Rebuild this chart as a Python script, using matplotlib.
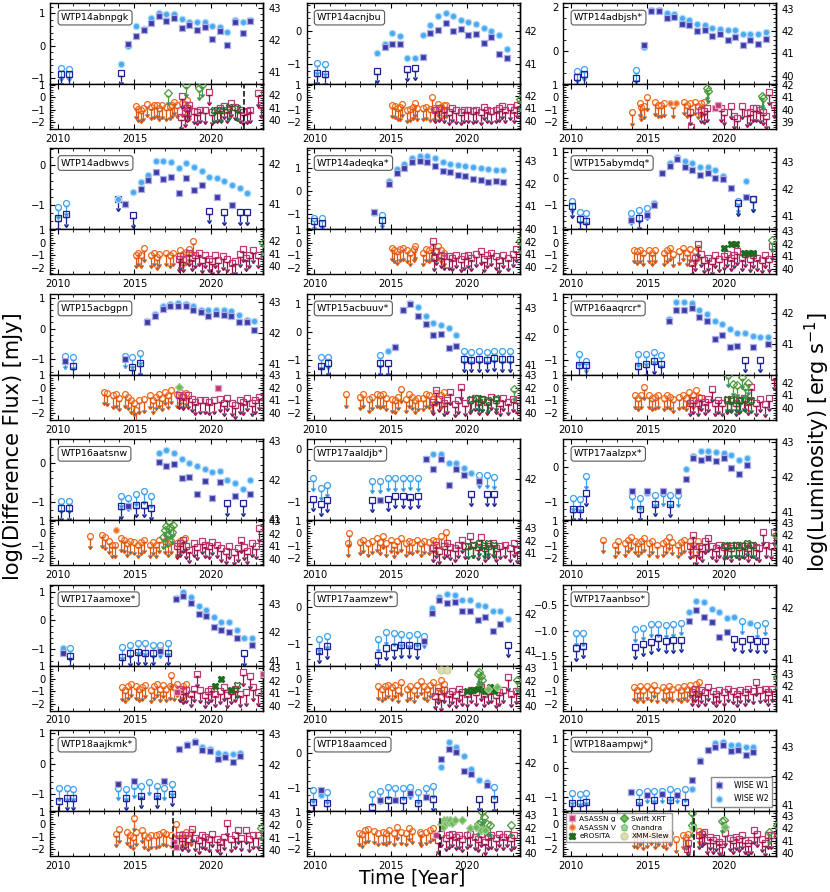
import numpy as np
import matplotlib
matplotlib.use('Agg')
import matplotlib.pyplot as plt
from matplotlib.ticker import MultipleLocator, AutoMinorLocator, FormatStrFormatter

N = None

names = ['WTP14abnpgk', 'WTP14acnjbu', 'WTP14adbjsh*',
         'WTP14adbwvs', 'WTP14adeqka*', 'WTP15abymdq*',
         'WTP15acbgpn', 'WTP15acbuuv*', 'WTP16aaqrcr*',
         'WTP16aatsnw', 'WTP17aaldjb*', 'WTP17aalzpx*',
         'WTP17aamoxe*', 'WTP17aamzew*', 'WTP17aanbso*',
         'WTP18aajkmk*', 'WTP18aamced', 'WTP18aampwj*']

# WISE epochs (years) and a per-object offset of the scan dates
wise_epochs = [2010.2, 2010.7, 2011.1, 2014.1, 2014.6, 2015.1, 2015.6, 2016.1,
               2016.6, 2017.1, 2017.6, 2018.1, 2018.6, 2019.1, 2019.6, 2020.1,
               2020.6, 2021.1, 2021.6, 2022.1, 2022.6, 2023.1]
wise_shift = [0.0, 0.0, 0.15, -0.2, -0.2, -0.15, 0.25, 0.2, 0.3,
              0.0, -0.3, -0.1, 0.1, 0.1, 0.1, -0.15, -0.3, -0.15]

# log difference flux, W1; flags: d = detection, u = upper limit, - = none
w1_flux = [
    [-0.87, -0.88, N, -0.84, 0.07, 0.31, 0.48, 0.70, 0.93, 0.77, 0.86, 0.55, 0.64, 0.48, 0.58, 0.20, 0.47, 0.02, 0.73, 0.40, 0.75, N],
    [-1.27, -1.30, N, -1.20, -0.48, -0.39, -0.39, -1.14, -1.12, -0.80, -0.07, 0.04, 0.26, 0.01, 0.08, -0.13, -0.10, -0.35, -0.18, -0.68, -0.81, N],
    [-1.15, -1.05, N, -1.20, 0.27, 1.82, 1.80, 1.50, 1.57, 1.23, 1.17, 0.90, 0.94, 0.68, 0.76, 0.50, 0.64, 0.29, 0.52, 0.33, 0.55, N],
    [-1.32, -1.22, N, -0.83, -0.97, -1.25, -0.60, -0.38, -0.18, -0.35, -0.29, -0.70, -0.33, -0.62, -0.50, -1.14, -0.79, -1.17, -0.98, -1.17, -1.17, N],
    [-1.31, -1.42, N, -0.92, -1.27, 0.29, 0.77, 0.98, 1.24, 1.31, 1.24, 1.07, 0.85, 0.80, 0.69, 0.66, 0.51, 0.48, 0.39, 0.44, 0.39, N],
    [-1.02, -1.50, -1.59, -1.55, -1.46, -1.37, -1.00, 0.20, 0.45, 0.72, 0.41, 0.32, 0.12, 0.20, 0.00, -0.02, -0.34, -0.93, -0.71, -0.78, N, N],
    [-1.05, -1.20, N, -1.00, -1.25, -1.12, 0.20, 0.40, 0.65, 0.72, 0.72, 0.75, 0.62, 0.54, 0.40, 0.48, 0.45, 0.40, 0.20, 0.22, -0.05, N],
    [-1.18, -1.10, N, -1.10, -1.10, -0.52, 0.81, 1.00, 0.57, 0.31, -0.08, -0.06, -0.56, -0.48, -0.95, -0.97, -0.95, -0.97, -0.93, -0.95, -0.95, N],
    [-1.18, -1.18, N, -1.20, -1.15, -1.05, -1.15, 0.25, 0.60, 0.60, 0.65, 0.37, 0.25, -0.33, -0.20, -0.60, -0.55, -1.00, -0.60, -1.00, -0.50, N],
    [-1.17, -1.17, N, -1.11, -1.11, -1.08, -1.08, -1.15, 0.03, -0.09, -0.03, -0.38, -0.36, -0.80, -0.46, -0.91, -0.49, -1.04, -0.85, -1.04, -0.79, N],
    [-0.94, -1.04, -0.96, -0.96, -0.96, -0.94, -0.89, -0.89, -0.90, -0.89, -0.19, -0.38, -0.19, -0.68, -0.38, -0.50, -0.85, -0.60, -0.85, -0.85, N, N],
    [-1.19, -1.19, -0.76, -0.70, -1.19, -0.69, -1.05, -0.70, -1.07, -0.68, -0.35, 0.26, 0.20, 0.25, 0.17, 0.25, -0.05, -0.22, 0.05, N, N, N],
    [-1.13, -1.22, N, -1.26, -1.15, -1.10, -1.12, -1.13, -1.08, -1.12, 0.73, 0.84, 0.60, 0.23, 0.15, -0.23, -0.35, -0.42, -0.60, -1.15, -0.85, N],
    [-1.18, -1.06, N, -1.30, -1.11, -1.08, -1.04, -1.04, -1.06, -0.91, -0.17, 0.18, 0.12, 0.14, -0.12, -0.12, -0.35, -0.26, -0.65, -0.45, -1.02, N],
    [-1.34, -1.30, N, -1.32, -1.26, -1.22, -1.15, -1.20, -1.19, -1.18, -0.82, -0.60, -0.73, -0.83, -1.13, -1.02, -1.16, -1.20, -1.17, -1.20, -1.20, N],
    [-1.24, -1.13, -1.13, -0.67, -1.12, -0.57, -1.05, N, -1.05, -0.57, -1.00, 0.48, 0.60, 0.72, 0.45, 0.43, 0.17, 0.22, 0.07, 0.24, N, N],
    [-1.39, -1.06, -1.41, -1.52, -1.34, -1.34, -1.34, -1.34, -1.13, -1.41, -1.24, -1.29, -0.17, 0.10, 0.03, -0.50, -0.60, -1.29, -0.90, -1.31, N, N],
    [-1.22, -1.22, -1.17, -0.83, -1.17, -0.94, -1.11, -0.89, -1.11, -0.92, -1.17, -0.42, 0.24, 0.60, 0.73, 0.78, 0.57, 0.62, 0.45, 0.55, N, N],
]
w1_flag = [
    'uu-u' + 'd' * 17 + '-',
    'uu-u' + 'ddd' + 'uu' + 'd' * 12 + '-',
    'uu-u' + 'd' * 17 + '-',
    'uu-udu' + 'd' * 9 + 'udud' + 'uu' + '-',
    'uu-du' + 'd' * 16 + '-',
    'uuudud' + 'd' * 11 + 'udu' + '--',
    'du-duu' + 'd' * 15 + '-',
    'uu-uu' + 'd' * 9 + 'u' * 7 + '-',
    'uu-uuuu' + 'd' * 10 + 'udud' + '-',
    'uu-uduuu' + 'd' * 9 + 'udud' + '-',
    'uuuuduuuuu' + 'd' * 6 + 'uduu' + '--',
    'uuudududud' + 'd' * 9 + '---',
    'du-uuuuudu' + 'd' * 9 + 'ud' + '-',
    'uu-uuuuuud' + 'd' * 10 + 'u' + '-',
    'uu-uuuuuuu' + 'd' * 6 + 'u' * 5 + '-',
    'uuu' + 'dudu-udu' + 'd' * 9 + '--',
    'udu' + 'ududududu' + 'd' * 5 + 'udu' + '--',
    'uuu' + 'dudududu' + 'd' * 9 + '--',
]

w2_flux = [
    [-0.69, -0.71, N, -0.56, 0.00, 0.60, 0.52, 0.87, 1.00, 0.97, 0.97, 0.83, 0.73, 0.72, 0.72, 0.61, 0.58, 0.41, 0.78, 0.72, 0.81, N],
    [-0.97, -1.00, N, -0.67, -0.39, -0.05, -0.15, -0.82, -0.82, -0.11, 0.19, 0.46, 0.55, 0.45, 0.35, 0.28, 0.22, 0.10, 0.02, -0.11, -0.54, N],
    [-0.88, -0.80, N, -0.85, 0.18, 1.88, 1.88, 1.73, 1.70, 1.52, 1.39, 1.21, 1.17, 1.05, 1.00, 0.94, 0.94, 0.77, 0.77, 0.77, 0.85, N],
    [-1.03, -0.95, N, -0.85, -0.97, -0.67, -0.43, -0.25, 0.11, 0.11, 0.07, -0.06, 0.05, -0.04, -0.14, -0.29, -0.31, -0.39, -0.49, -0.58, -0.70, N],
    [-1.17, -1.17, N, -0.95, -1.07, 0.44, 0.95, 1.17, 1.42, 1.53, 1.53, 1.42, 1.27, 1.17, 1.12, 1.09, 1.02, 0.98, 0.95, 0.90, 0.90, N],
    [-0.84, -1.25, -1.28, -1.28, -1.18, -1.09, -0.93, 0.22, 0.57, 0.79, 0.66, 0.56, 0.41, 0.41, 0.32, 0.10, N, -0.84, -0.11, -0.78, N, N],
    [-0.90, -0.93, N, -0.88, -0.92, -0.78, 0.26, 0.46, 0.73, 0.80, 0.84, 0.80, 0.73, 0.62, 0.62, 0.59, 0.62, 0.57, 0.43, 0.29, 0.26, N],
    [-0.89, -0.86, N, -0.82, -0.66, -0.52, 0.81, 1.03, 0.89, 0.57, 0.33, 0.27, 0.15, -0.08, -0.68, -0.70, -0.68, -0.70, -0.66, -0.68, -0.68, N],
    [-0.81, -1.03, N, -0.83, -0.80, -0.75, -0.85, 0.30, 0.85, 0.85, 0.80, 0.60, 0.48, 0.25, 0.15, 0.00, -0.13, -0.15, -0.25, -0.28, -0.28, N],
    [-0.97, -0.97, N, -0.85, -0.91, -0.79, -0.73, -0.85, 0.24, 0.32, 0.24, 0.09, -0.02, -0.09, -0.15, -0.23, -0.21, -0.44, -0.51, -0.66, -0.44, N],
    [-0.55, -0.73, -0.68, -0.60, -0.60, -0.55, -0.55, -0.55, -0.54, -0.55, -0.19, -0.09, -0.09, -0.27, -0.27, -0.36, -0.45, -0.50, -0.50, -0.52, N, N],
    [-0.90, -0.93, -0.27, -0.84, -0.88, -0.76, -0.80, -0.76, -0.80, -0.80, -0.06, 0.30, 0.44, 0.44, 0.41, 0.39, 0.33, 0.20, 0.26, N, N, N],
    [-0.97, -0.97, N, -0.93, -0.86, -0.77, -0.80, -0.86, -0.86, -0.80, 0.77, 0.97, 0.80, 0.50, 0.35, 0.10, -0.06, -0.07, -0.35, -0.60, -0.60, N],
    [-0.88, -0.79, N, -0.88, -0.69, -0.71, -0.74, -0.76, -0.74, -0.78, -0.02, 0.27, 0.35, 0.34, 0.20, 0.18, 0.06, 0.04, -0.10, -0.12, -0.32, N],
    [-1.05, -1.05, N, -0.98, -0.95, -0.88, -0.88, -0.90, -0.88, -0.85, -0.64, -0.42, -0.44, -0.58, -0.65, -0.76, -0.74, -0.82, -0.86, -0.90, -0.85, N],
    [-0.81, -0.81, -0.83, -0.80, -0.82, -0.72, -0.75, -0.61, -0.72, -0.80, -0.67, 0.50, 0.65, 0.75, 0.55, 0.50, 0.35, 0.33, 0.33, 0.35, N, N],
    [-1.06, -1.19, -1.10, -1.16, -1.08, -0.96, -1.00, -0.98, -0.96, -1.10, -0.98, -0.93, -0.40, 0.30, 0.15, -0.10, -0.45, -0.78, -0.82, -0.96, N, N],
    [-0.86, -0.89, -0.86, -0.82, -0.83, -0.78, -0.78, -0.78, -0.74, -0.78, -0.74, -0.74, 0.27, 0.63, 0.86, 0.88, 0.80, 0.78, 0.70, 0.70, N, N],
]
w2_flag = [
    'uu-' + 'd' * 18 + '-',
    'uu-' + 'd' * 18 + '-',
    'uu-u' + 'd' * 17 + '-',
    'uu-' + 'd' * 18 + '-',
    'uu-du' + 'd' * 16 + '-',
    'uuuuuu' + 'd' * 10 + '-' + 'udu' + '--',
    'uu-uuu' + 'd' * 15 + '-',
    'uu-u' + 'd' * 10 + 'u' * 7 + '-',
    'uu-uuuu' + 'd' * 14 + '-',
    'uu-uuuuu' + 'd' * 13 + '-',
    'u' * 10 + 'd' * 7 + 'uuu' + '--',
    'uuuuuduuuu' + 'd' * 9 + '---',
    'du-uuuuuuu' + 'd' * 11 + '-',
    'uu-uuuuuuu' + 'd' * 11 + '-',
    'uu-uuuuuuu' + 'd' * 7 + 'udu' + 'u' + '-',
    'u' * 11 + 'd' * 9 + '--',
    'udu' + 'u' * 9 + 'd' * 7 + 'u' + '--',
    'uuu' + 'duuuuuuu' + 'd' * 9 + '--',
]

top_ylim = [(-1.18, 1.32), (-1.61, 0.86), (-1.48, 2.18), (-1.60, 0.42), (-1.68, 1.85),
            (-1.90, 1.12), (-1.50, 1.13), (-1.51, 1.37), (-1.48, 1.11), (-1.47, 0.60),
            (-1.35, 0.19), (-1.52, 0.78), (-1.57, 1.24), (-1.59, 0.61), (-1.68, -0.11),
            (-1.56, 1.11), (-1.64, 0.64), (-1.48, 1.30)]
top_step = [1, 1, 2, 1, 1, 1, 1, 1, 1, 1, 1, 1, 1, 1, 0.5, 1, 1, 1]
# log L = log F + offset
top_off = [41.82, 42.00, 41.10, 41.97, 41.68, 42.40, 42.15, 42.15, 41.50,
           42.45, 42.57, 42.30, 42.42, 42.18, 42.56, 42.03, 42.28, 42.27]
bot_off = [41.83, 41.90, 41.00, 41.90, 41.92, 42.10, 42.00, 42.00, 41.58,
           42.05, 42.60, 42.16, 42.16, 42.15, 42.60, 42.10, 42.30, 42.33]

# ASASSN V (upper limits)
v_t = [
    [2015.1, 2015.25, 2015.4, 2015.55, 2015.8, 2016.1, 2016.3, 2016.45, 2016.6, 2016.8, 2017.1, 2017.3, 2017.45, 2017.6, 2017.8, 2018.1, 2018.3, 2018.45, 2018.6],
    [2015.1, 2015.3, 2015.45, 2015.6, 2015.75, 2016.1, 2016.3, 2016.45, 2016.6, 2016.75, 2017.1, 2017.35, 2017.55, 2017.7, 2017.85, 2018.1, 2018.3, 2018.5, 2018.65],
    [2014.0, 2014.5, 2014.6, 2014.8, 2014.95, 2015.5, 2015.7, 2015.9, 2016.1, 2016.7, 2017.4, 2017.6, 2017.8, 2018.1, 2018.3, 2018.5, 2018.7],
    [2015.1, 2015.25, 2015.4, 2015.6, 2016.1, 2016.3, 2016.45, 2016.6, 2017.1, 2017.3, 2017.5, 2018.0, 2018.2, 2018.4, 2018.6, 2018.85],
    [2015.1, 2015.25, 2015.4, 2015.6, 2015.8, 2016.1, 2016.3, 2016.5, 2016.6, 2017.1, 2017.3, 2017.5, 2017.7, 2018.1, 2018.3, 2018.5],
    [2014.1, 2014.3, 2014.5, 2014.7, 2015.1, 2015.3, 2015.5, 2016.1, 2016.3, 2016.5, 2016.7, 2017.1, 2017.3, 2017.6, 2017.8, 2018.1, 2018.3],
    [2013.0, 2013.2, 2013.6, 2013.8, 2014.0, 2014.4, 2014.6, 2014.8, 2015.0, 2015.1, 2015.3, 2015.6, 2016.0, 2016.2, 2016.4, 2016.6, 2016.8, 2017.0, 2017.2, 2017.4, 2017.8, 2018.0, 2018.2, 2018.4],
    [2012.1, 2013.0, 2013.2, 2013.6, 2013.8, 2014.1, 2014.3, 2014.5, 2014.7, 2015.1, 2015.3, 2015.5, 2015.7, 2016.0, 2016.2, 2016.4, 2016.6, 2016.8, 2017.1, 2017.3, 2017.5, 2017.7, 2018.0, 2018.3, 2018.5],
    [2014.2, 2014.4, 2014.6, 2014.8, 2015.1, 2015.3, 2015.5, 2015.7, 2016.1, 2016.3, 2016.5, 2016.7, 2017.1, 2017.3, 2017.5, 2017.7, 2018.0, 2018.2, 2018.4],
    [2012.1, 2012.9, 2013.1, 2013.3, 2013.5, 2013.7, 2014.1, 2014.3, 2014.5, 2014.7, 2015.0, 2015.2, 2015.4, 2015.6, 2016.0, 2016.2, 2016.4, 2016.6, 2017.0, 2017.2, 2017.4, 2017.8, 2018.0, 2018.3],
    [2012.2, 2012.3, 2013.0, 2013.2, 2013.5, 2013.8, 2014.1, 2014.3, 2014.5, 2014.7, 2015.0, 2015.2, 2015.4, 2015.7, 2016.0, 2016.2, 2016.4, 2016.7, 2017.0, 2017.2, 2017.5, 2017.8, 2018.0, 2018.3, 2018.6],
    [2012.1, 2012.9, 2013.1, 2013.5, 2013.7, 2013.9, 2014.2, 2014.4, 2014.6, 2014.8, 2015.1, 2015.3, 2015.6, 2016.0, 2016.2, 2016.4, 2016.6, 2017.0, 2017.2, 2017.4, 2017.8, 2018.0, 2018.3],
    [2014.2, 2014.4, 2014.6, 2014.8, 2015.1, 2015.3, 2015.5, 2015.7, 2016.1, 2016.3, 2016.5, 2016.7, 2016.9, 2017.1, 2017.3, 2017.4, 2017.6, 2017.8, 2018.0, 2018.2, 2018.4],
    [2014.2, 2014.4, 2014.6, 2014.8, 2015.1, 2015.3, 2015.5, 2015.7, 2016.1, 2016.3, 2016.5, 2016.7, 2017.0, 2017.2, 2017.4, 2017.6, 2017.8, 2018.1, 2018.3, 2018.5],
    [2014.1, 2014.3, 2014.5, 2014.7, 2015.0, 2015.2, 2015.4, 2015.6, 2016.0, 2016.2, 2016.4, 2016.6, 2017.0, 2017.2, 2017.4, 2017.6, 2017.8, 2018.0, 2018.2, 2018.4],
    [2013.8, 2014.0, 2014.5, 2014.7, 2014.9, 2015.0, 2015.1, 2015.5, 2015.6, 2015.9, 2016.1, 2016.4, 2016.6, 2016.9, 2017.1, 2017.4, 2017.75, 2018.1, 2018.4, 2018.7],
    [2012.9, 2013.1, 2013.3, 2013.5, 2013.9, 2014.2, 2014.5, 2014.7, 2014.9, 2015.2, 2015.4, 2015.7, 2016.0, 2016.2, 2016.4, 2016.9, 2017.0, 2017.3, 2017.6, 2017.8],
    [2014.1, 2014.3, 2014.5, 2014.7, 2015.0, 2015.2, 2015.5, 2015.7, 2016.0, 2016.2, 2016.5, 2016.9, 2017.35, 2017.55, 2017.65, 2018.35, 2018.6],
]
v_y = [
    [-0.7, -0.95, -1.0, -0.85, -0.55, -0.75, -0.65, -0.6, -0.85, -0.65, -0.8, -0.75, -0.6, -0.35, -0.6, -0.5, -0.55, -0.2, -0.85],
    [-0.6, -0.7, -0.85, -0.8, -0.55, -1.0, -0.95, -0.75, -0.5, -0.85, -0.85, -0.75, -0.95, 0.0, -0.85, -0.55, -0.75, -0.6, -0.6],
    [-1.2, -0.5, -0.8, -0.7, 0.0, -0.4, -0.6, -0.6, -0.5, -0.6, -0.35, -0.6, -0.5, -0.35, -0.7, -0.5, -0.4],
    [-1.0, -0.8, -1.0, -0.45, -1.0, -0.8, -1.15, -0.9, -0.8, -1.0, -0.8, -0.6, -0.9, -0.75, -0.5, 0.1],
    [-0.4, -0.6, -0.7, -0.5, -0.4, -0.6, -0.8, -0.5, -0.3, -0.8, -0.5, -0.6, -0.4, -0.3, -0.6, -0.8],
    [-0.6, -0.7, -0.6, -0.8, -0.6, -0.8, -0.6, -0.8, -0.6, -0.4, -0.9, -0.7, -0.4, -0.8, -0.5, -0.7, -0.4],
    [-0.3, -0.4, -0.6, -0.5, -0.8, -0.5, -0.7, -1.0, -1.2, -1.8, -1.0, -0.9, -0.6, -1.0, -0.7, -0.5, -0.8, -0.3, -0.6, -0.2, -0.5, -0.3, -0.6, -0.4],
    [-0.5, -0.7, -0.5, -0.9, -0.7, -0.5, -0.6, -0.5, -0.8, -0.9, -1.0, -0.7, -0.1, -0.9, -0.5, -0.7, -1.0, -0.8, -0.8, -0.5, -0.6, -0.9, -0.4, -0.6, -0.3],
    [-0.6, -0.8, -0.6, 0.1, -0.6, -0.8, -0.7, -0.6, -0.8, -0.6, -0.7, -0.9, -0.7, -0.6, -0.8, -0.3, -0.6, -0.2, -0.7],
    [-0.2, -0.1, -0.3, -0.6, -0.9, -0.9, -0.4, -0.5, -0.8, -0.6, -0.7, -0.9, -0.7, -0.5, -0.9, -0.7, -0.9, -0.5, -0.6, -0.8, -0.6, -0.8, -0.6, -0.4],
    [-0.8, 0.0, -0.7, -0.5, -0.8, -0.6, -0.4, -0.7, -0.2, -0.8, -0.5, -0.9, -0.6, -0.4, -0.8, -0.6, -0.7, -0.5, -0.8, -0.6, -0.7, -0.5, -0.6, -0.2, 0.1],
    [-0.5, -0.9, -0.6, -0.8, -0.5, -0.3, -0.6, -0.8, -0.6, -0.4, -0.8, -0.6, -0.9, -0.8, -0.6, -0.3, -0.7, -0.9, -0.7, -0.5, -0.6, -0.9, -0.6],
    [-0.7, -0.9, -0.6, -0.4, -0.6, -0.8, -0.7, -0.5, -0.9, -0.6, -0.4, -0.8, -0.5, -0.8, -0.6, 0.3, -0.7, -0.4, -0.8, -0.6, -0.4],
    [-0.6, -0.8, -0.6, -0.5, -0.7, -0.5, -0.9, -0.3, -0.8, -0.6, -0.9, -0.5, -0.2, -0.6, -0.8, -0.5, -0.3, -0.7, -0.1, -0.4],
    [-0.7, -0.9, -0.6, -0.9, -0.6, -0.8, -0.5, -0.9, -0.7, -0.9, -0.6, -0.8, -0.7, -0.9, -0.6, -0.8, -0.5, -0.8, -0.4, -0.3],
    [-0.75, -0.4, -0.6, -0.85, -1.0, 0.5, -0.65, -0.45, -0.9, -1.05, -0.9, -0.9, -0.8, -0.65, -0.75, -0.85, 0.0, -0.75, -0.6, -0.65],
    [-0.7, -0.8, -0.5, -0.4, -0.55, -0.7, -0.6, -0.7, -0.5, -0.7, -0.2, -0.6, -0.7, -0.3, -0.55, -0.6, -0.75, -0.6, -0.45, -0.3],
    [-0.8, -0.9, -0.7, -1.0, -0.8, -0.6, -0.9, -0.7, -0.8, -1.0, -0.7, -1.2, -0.9, -1.0, -0.8, -0.55, -0.7],
]
# ASASSN V detections (t, log flux)
v_det = [[], [], [(2016.5, -0.5), (2016.9, -0.5)], [], [], [], [], [], [],
         [(2013.8, 0.3)], [], [], [], [], [], [], [], []]

# ASASSN g (upper limits)
g_t = [
    [2018.05, 2018.15, 2018.3, 2018.45, 2018.6, 2018.9, 2019.1, 2019.3, 2019.6, 2019.9, 2020.1, 2020.4, 2020.6, 2020.9, 2021.1, 2021.3, 2021.6, 2021.9, 2022.1, 2022.4, 2022.6, 2023.1, 2023.3],
    [2017.9, 2018.2, 2018.5, 2018.8, 2019.0, 2019.3, 2019.6, 2019.8, 2020.1, 2020.4, 2020.6, 2020.9, 2021.1, 2021.3, 2021.6, 2021.9, 2022.1, 2022.3, 2022.5, 2022.8, 2023.1, 2023.3],
    [2017.8, 2017.85, 2018.5, 2018.7, 2018.9, 2019.8, 2020.0, 2020.5, 2020.7, 2020.9, 2021.2, 2021.5, 2021.7, 2021.9, 2022.1, 2022.4, 2022.6, 2022.8, 2023.0, 2023.3],
    [2017.9, 2018.0, 2018.2, 2018.6, 2018.8, 2019.0, 2019.2, 2019.4, 2019.6, 2019.9, 2020.1, 2020.3, 2020.5, 2020.8, 2021.1, 2021.4, 2021.6, 2021.9, 2022.1, 2022.3, 2022.5, 2022.8, 2023.1],
    [2017.8, 2017.85, 2018.0, 2018.3, 2018.5, 2018.8, 2019.0, 2019.3, 2019.6, 2019.8, 2020.1, 2020.3, 2020.6, 2020.9, 2021.1, 2021.3, 2021.6, 2021.9, 2022.1, 2022.4, 2022.7, 2023.0, 2023.2],
    [2017.9, 2018.1, 2018.3, 2018.5, 2018.7, 2019.0, 2019.2, 2019.4, 2019.7, 2020.0, 2020.2, 2020.5, 2020.7, 2020.9, 2021.2, 2021.4, 2021.7, 2021.9, 2022.2, 2022.5, 2022.7, 2023.0, 2023.2],
    [2017.9, 2018.2, 2018.5, 2018.8, 2019.0, 2019.3, 2019.6, 2019.9, 2020.2, 2020.6, 2020.9, 2021.1, 2021.4, 2021.6, 2021.9, 2022.1, 2022.4, 2022.7, 2022.9, 2023.2],
    [2017.8, 2018.0, 2018.2, 2018.5, 2018.7, 2018.9, 2019.2, 2019.4, 2019.6, 2019.9, 2020.2, 2020.5, 2020.8, 2021.0, 2021.3, 2021.6, 2021.9, 2022.2, 2022.4, 2022.7, 2023.0, 2023.3],
    [2017.8, 2018.0, 2018.3, 2018.5, 2018.8, 2019.0, 2019.2, 2019.4, 2019.6, 2019.9, 2020.2, 2020.5, 2020.8, 2021.0, 2021.3, 2021.6, 2021.8, 2022.1, 2022.4, 2022.7, 2023.0, 2023.3],
    [2017.8, 2018.0, 2018.2, 2018.4, 2018.6, 2018.9, 2019.1, 2019.4, 2019.6, 2019.9, 2020.1, 2020.4, 2020.7, 2021.0, 2021.2, 2021.5, 2021.8, 2022.0, 2022.2, 2022.4, 2022.7, 2023.0, 2023.2],
    [2017.8, 2018.0, 2018.2, 2018.5, 2018.7, 2018.9, 2019.2, 2019.4, 2019.7, 2019.9, 2020.2, 2020.4, 2020.7, 2020.9, 2021.2, 2021.4, 2021.7, 2021.9, 2022.2, 2022.5, 2022.8, 2023.1, 2023.3],
    [2017.8, 2018.0, 2018.2, 2018.4, 2018.6, 2018.8, 2019.0, 2019.2, 2019.5, 2019.7, 2020.0, 2020.2, 2020.5, 2020.8, 2021.0, 2021.3, 2021.6, 2021.8, 2022.1, 2022.3, 2022.6, 2022.8, 2023.1, 2023.3],
    [2018.0, 2018.2, 2018.4, 2018.7, 2018.9, 2019.1, 2019.3, 2019.6, 2019.8, 2020.0, 2020.3, 2020.6, 2020.9, 2021.1, 2021.3, 2021.6, 2021.9, 2022.1, 2022.3, 2022.6, 2022.8, 2023.1],
    [2017.9, 2018.1, 2018.3, 2018.5, 2018.8, 2019.0, 2019.3, 2019.5, 2019.7, 2020.0, 2020.3, 2020.6, 2020.9, 2021.1, 2021.4, 2021.6, 2021.9, 2022.1, 2022.4, 2022.7, 2022.9, 2023.2],
    [2017.9, 2018.1, 2018.3, 2018.5, 2018.8, 2019.0, 2019.3, 2019.5, 2019.7, 2020.0, 2020.3, 2020.6, 2020.9, 2021.1, 2021.4, 2021.6, 2021.9, 2022.1, 2022.4, 2022.7, 2022.9, 2023.2],
    [2017.9, 2018.1, 2018.3, 2018.5, 2018.8, 2019.0, 2019.2, 2019.4, 2019.6, 2019.9, 2020.1, 2020.4, 2020.6, 2020.9, 2021.1, 2021.3, 2021.6, 2021.8, 2022.0, 2022.3, 2022.5, 2022.8, 2023.1],
    [2018.1, 2018.3, 2018.6, 2018.8, 2019.0, 2019.3, 2019.5, 2019.7, 2020.0, 2020.2, 2020.5, 2020.7, 2020.9, 2021.2, 2021.4, 2021.6, 2021.9, 2022.1, 2022.4, 2022.6, 2022.9, 2023.1],
    [2017.6, 2017.65, 2018.4, 2018.6, 2018.7, 2018.9, 2019.1, 2019.3, 2019.5, 2019.7, 2019.9, 2020.1, 2020.4, 2020.6, 2020.8, 2021.0, 2021.2, 2021.4, 2021.6, 2021.8, 2022.0, 2022.2, 2022.5, 2022.7, 2022.9, 2023.1],
]
g_y = [
    [-1.6, 0.1, -1.3, -0.9, -0.6, -1.1, -1.2, -1.0, -1.05, 0.4, -1.2, -1.0, -0.9, -0.7, -1.0, -0.5, -0.8, -1.0, -1.2, -1.1, -1.0, 0.3, -0.6],
    [-1.0, -0.9, -1.0, -1.2, -0.9, -1.05, -1.2, -1.0, -1.0, -1.1, -1.0, -1.2, -0.8, -1.0, -1.1, -1.0, -0.9, -0.7, -1.0, -0.8, -1.0, -0.6],
    [-1.2, -2.35, -1.0, -1.1, -0.9, -0.9, -1.2, -0.7, -1.5, -1.7, -0.7, -1.3, -1.2, -0.9, -0.9, -1.0, -1.2, -1.5, 0.4, -0.6],
    [-1.3, -1.1, -1.3, -0.8, -1.2, -1.0, -0.8, -1.4, -1.0, -1.3, -1.5, -1.0, -1.4, -1.1, -1.3, -1.6, -1.5, -0.9, -0.5, -1.2, -1.0, -0.6, -1.0],
    [0.1, -1.2, -0.7, -1.0, -1.1, -1.1, -1.2, -1.0, -1.3, -1.1, -1.0, -1.2, -0.9, -0.7, -1.3, -1.0, -0.8, -1.1, -1.4, -1.0, -1.2, -0.9, -0.5],
    [-1.6, -1.2, -0.1, -0.9, -1.4, -1.2, -1.5, -1.0, -1.3, -1.1, -0.9, -1.2, -1.0, -0.7, -1.2, -0.9, -1.3, -1.0, -1.2, -1.4, -1.0, -1.3, -0.3],
    [-0.6, -0.7, -0.6, -0.9, -1.1, -1.0, -1.0, -1.1, -1.0, -0.9, -1.2, -0.8, -1.2, -1.4, -1.0, -1.1, -0.8, -1.2, -1.0, -0.7],
    [-1.1, -0.2, -0.9, -1.2, -1.0, -0.3, -1.3, -1.0, 0.1, -1.2, -1.0, -0.8, -1.1, -0.9, -1.1, -0.7, -1.0, -1.2, -0.8, -1.1, -0.9, -1.0],
    [-1.2, -1.0, -1.2, -0.8, -1.1, -0.9, -0.1, -1.2, -1.0, -1.2, -1.0, -0.9, -1.2, -1.0, -0.8, -1.1, 0.1, -1.2, -0.9, -1.3, -0.8, 0.9],
    [-1.0, -0.8, -0.5, -1.0, -1.3, -0.8, -1.1, -0.6, -0.9, -1.0, -0.7, -0.9, -1.2, -1.4, -1.0, -1.5, -1.2, -0.5, -1.1, -1.4, -0.8, -1.0, 0.4],
    [-1.2, -0.9, -1.4, -1.0, -0.8, -1.1, -1.2, -0.9, -0.5, -1.0, -0.2, -0.9, -1.1, -0.3, -1.2, -1.0, -0.8, -1.2, -1.0, -0.9, -1.2, -0.8, -1.3],
    [-1.0, -0.1, -1.5, -1.0, -1.2, -0.6, -0.4, -1.0, -1.2, -0.9, -1.1, -1.0, -1.2, -0.9, -1.1, -1.0, -1.2, -0.9, -1.1, -1.2, 0.1, -0.9, -1.0, 0.1],
    [-0.8, -1.0, -0.9, -1.2, -0.8, 0.4, -0.9, -1.3, -1.0, -0.8, -1.2, -1.0, -0.7, -1.3, -1.0, -0.8, -1.2, 0.5, -1.1, 0.2, -0.7, -1.1],
    [-1.4, -1.0, -1.5, -0.9, -1.2, -1.0, -1.3, -0.8, -1.1, -1.2, -0.9, -1.1, -0.7, -1.2, -1.0, -0.9, -1.3, -1.1, -0.9, 0.1, -1.2, -1.0],
    [-1.1, -0.8, -1.2, -0.9, -1.1, -0.7, -1.0, -1.2, -0.9, -1.1, -0.8, -1.0, -1.2, -0.9, -1.1, -0.8, -1.0, -0.3, -0.9, -0.8, -1.1, -0.8],
    [-0.9, -1.1, -0.9, -1.2, -0.4, -1.1, -1.3, -0.9, -1.0, -1.2, -0.8, -1.2, -1.4, -1.0, 0.1, -1.2, -0.9, -0.5, -1.1, -0.5, -1.2, -0.9, -0.9],
    [-1.3, -0.8, -1.1, -0.9, -0.8, -1.0, -0.9, -1.2, -0.9, -0.8, -1.0, -1.2, -0.8, -1.4, -1.0, -0.9, -1.1, -0.8, -1.0, -0.8, -1.1, -0.9],
    [-2.0, -1.5, -0.9, -0.8, -0.6, -1.3, -1.0, -1.3, -1.1, -1.4, -1.6, -0.7, -1.1, -1.3, -1.0, -1.2, -0.9, -1.3, -1.5, -1.3, -0.5, -0.8, -1.2, -1.5, -0.9, -0.9],
]
g_det = [[], [], [(2019.4, -0.9), (2019.6, -0.6)], [], [], [], [(2020.5, 0.0)], [], [],
         [], [], [], [(2017.8, -1.1), (2023.4, 0.4)], [], [],
         [(2017.6, -1.4), (2017.7, -1.8)], [(2017.95, -0.9)], []]

# X-ray points: (instrument, t, log flux, upper limit?)
xray = [
    [('swift', 2017.2, 0.3, 1), ('swift', 2018.4, 1.0, 1), ('swift', 2019.2, 0.7, 1), ('swift', 2019.4, 1.0, 1),
     ('erosita', 2020.2, -1.0, 1), ('erosita', 2020.7, -1.0, 1), ('erosita', 2021.2, -0.8, 1), ('erosita', 2021.7, -0.9, 1)],
    [('swift', 2023.5, -0.15, 1)],
    [('swift', 2018.9, 0.75, 1), ('swift', 2019.0, 0.5, 1), ('swift', 2022.5, 0.1, 1), ('swift', 2022.6, -0.1, 1)],
    [('swift', 2023.4, 0.0, 1)],
    [('swift', 2023.5, 0.15, 1)],
    [('erosita', 2020.0, -0.4, 0), ('erosita', 2020.5, -0.15, 0), ('erosita', 2020.8, -0.15, 0),
     ('erosita', 2021.3, -0.8, 0), ('erosita', 2021.6, -0.85, 0), ('erosita', 2021.9, -0.85, 0), ('swift', 2023.2, 0.2, 1)],
    [('swift', 2017.9, 0.1, 0)],
    [('erosita', 2020.3, -0.9, 1), ('erosita', 2020.7, -0.8, 1), ('erosita', 2021.0, -0.9, 1),
     ('erosita', 2021.4, -1.0, 1), ('erosita', 2021.9, -0.8, 1), ('swift', 2023.1, -0.05, 1)],
    [('erosita', 2020.2, -0.9, 1), ('erosita', 2020.5, -1.0, 1), ('erosita', 2020.8, -0.9, 1),
     ('erosita', 2021.1, -1.0, 1), ('erosita', 2021.4, -0.9, 1), ('erosita', 2021.8, -1.0, 1),
     ('swift', 2020.3, 1.0, 1), ('swift', 2020.6, 0.3, 1), ('swift', 2020.9, 0.2, 1),
     ('swift', 2021.2, 0.9, 1), ('swift', 2021.4, 0.1, 1), ('swift', 2021.6, 0.4, 1)],
    [('swift', 2016.9, -0.3, 1), ('swift', 2017.0, 0.3, 1), ('swift', 2017.1, 0.6, 1), ('swift', 2017.15, -0.1, 1),
     ('swift', 2017.25, 0.9, 1), ('swift', 2017.35, 0.5, 1), ('swift', 2017.45, 0.1, 1), ('swift', 2017.55, 0.7, 1)],
    [('erosita', 2020.1, -1.0, 1), ('erosita', 2020.4, -0.9, 1), ('erosita', 2020.8, -0.8, 1),
     ('erosita', 2021.1, -0.9, 1), ('erosita', 2021.4, -0.8, 1), ('erosita', 2021.8, -0.9, 1)],
    [('erosita', 2020.1, -0.9, 1), ('erosita', 2020.5, -0.9, 1), ('erosita', 2020.8, -0.9, 1),
     ('erosita', 2021.2, -0.9, 1), ('erosita', 2021.5, -0.8, 1), ('erosita', 2021.9, -0.9, 1), ('swift', 2023.4, -0.1, 1)],
    [('erosita', 2020.3, -0.6, 0), ('erosita', 2020.7, 0.0, 0), ('erosita', 2021.3, -0.9, 0), ('erosita', 2021.7, -0.5, 1)],
    [('xmm', 2018.3, 0.7, 0), ('xmm', 2018.7, 0.7, 0),
     ('erosita', 2020.0, -1.0, 0), ('erosita', 2020.4, -0.9, 0), ('erosita', 2020.7, -0.8, 0),
     ('erosita', 2021.2, -1.0, 0), ('erosita', 2021.5, -0.7, 0), ('erosita', 2021.8, -1.0, 0),
     ('swift', 2020.7, 0.4, 1), ('swift', 2020.8, 0.55, 1), ('swift', 2020.9, 0.25, 1), ('swift', 2021.0, -0.1, 1),
     ('swift', 2021.4, -0.8, 0), ('swift', 2022.0, -0.7, 0), ('swift', 2023.3, -0.1, 1)],
    [('swift', 2023.5, 0.1, 1)],
    [('swift', 2023.3, -0.3, 1)],
    [('swift', 2018.3, 0.0, 0), ('swift', 2018.35, 0.2, 0), ('swift', 2018.4, -0.2, 0), ('swift', 2018.5, 0.3, 0),
     ('swift', 2018.6, 0.1, 0), ('swift', 2018.7, 0.3, 0), ('swift', 2018.8, 0.2, 0), ('swift', 2018.9, 0.3, 0),
     ('swift', 2019.0, 0.1, 0), ('swift', 2019.2, 0.3, 0), ('swift', 2019.7, 0.3, 0), ('swift', 2020.2, -0.3, 0),
     ('swift', 2020.6, -0.2, 0), ('swift', 2020.9, -0.5, 0), ('swift', 2021.2, -0.5, 0),
     ('swift', 2020.7, 0.0, 1), ('swift', 2020.9, 0.2, 1), ('swift', 2021.0, 1.0, 1), ('swift', 2021.1, 0.6, 1),
     ('swift', 2021.3, 0.0, 1), ('swift', 2021.5, -0.1, 1), ('swift', 2022.9, -0.1, 1)],
    [('swift', 2017.9, 0.9, 1), ('swift', 2017.95, -0.1, 1), ('swift', 2018.0, -0.3, 0),
     ('swift', 2019.9, 0.25, 1), ('swift', 2020.0, 0.35, 1), ('swift', 2020.1, -0.2, 0),
     ('swift', 2023.0, -0.6, 1), ('swift', 2023.5, -0.1, 1)],
]

# dashed vertical marker in the lower panels
tde_year = [2022.2, N, N, N, N, N, N, N, N, N, N, N, N, N, N, 2017.55, 2018.25, 2018.03]

W1_FACE, W1_EDGE, W1_UL = '#3b3ba6', '#aeaee6', '#1f1f96'
W2_FACE, W2_EDGE, W2_UL = '#4aa9f0', '#b3dcf8', '#3fa2f0'
V_COL, V_ARR = '#ee6a20', '#e0570e'
G_COL, G_ARR = '#be3a74', '#9e1346'
XSTYLE = {
    'swift': ('D', 3.6, '#4c9a3c', '#6cba5c'),
    'erosita': ('X', 5.0, '#1e6b1e', '#2a7a2a'),
    'chandra': ('p', 4.5, '#7fc07f', '#9fd49f'),
    'xmm': ('o', 5.0, '#cfcf98', '#dedeb4'),
}

W_PX, H_PX = 830.0, 892.0
col_x = [50.3, 306.5, 563.3]
PANEL_W, TOP_H, BOT_H, ROW_STEP = 213.0, 81.0, 45.0, 145.4
BOT_LIM = (-2.55, 1.05)


def px_axes(x, y, w, h):
    return fig.add_axes([x / W_PX, 1 - (y + h) / H_PX, w / W_PX, h / H_PX])


def draw_det(ax, t, y, marker, face, edge, ms, z=3):
    if not t:
        return
    ax.errorbar(t, y, yerr=0.03, fmt=marker, ms=ms, mfc=face, mec=edge, mew=0.9,
                ecolor=face, elinewidth=0.8, capsize=0, zorder=z)


def draw_ul(ax, t, y, marker, edge, arrow, ms, ppu, arrow_px, z=3):
    if not t:
        return
    d = ms * 0.69 / ppu
    ax.plot(t, y, ls='none', marker=marker, ms=ms, mfc='none', mec=edge, mew=0.9, zorder=z)
    ax.errorbar(t, [v - d for v in y], yerr=arrow_px / ppu, uplims=True, fmt='none',
                ecolor=arrow, elinewidth=0.9, capsize=1.5, zorder=z)


def style_axes(ax):
    ax.set_xlim(2009.48, 2023.45)
    ax.xaxis.set_major_locator(MultipleLocator(5))
    ax.xaxis.set_minor_locator(MultipleLocator(1))
    ax.yaxis.set_minor_locator(AutoMinorLocator())
    ax.tick_params(which='both', direction='in', top=True, right=False, labelsize=7.2)
    ax.tick_params(which='major', length=3.5, width=0.8)
    ax.tick_params(which='minor', length=2, width=0.6)
    for s in ax.spines.values():
        s.set_linewidth(1.0)


def add_right(ax, off):
    sec = ax.secondary_yaxis('right', functions=(lambda v, o=off: v + o, lambda v, o=off: v - o))
    sec.yaxis.set_major_locator(MultipleLocator(1))
    sec.yaxis.set_minor_locator(AutoMinorLocator())
    sec.yaxis.set_major_formatter(FormatStrFormatter('%d'))
    sec.tick_params(which='both', direction='in', labelsize=7.2)
    sec.tick_params(which='major', length=3.5, width=0.8)
    sec.tick_params(which='minor', length=2, width=0.6)
    sec.spines['right'].set_linewidth(1.0)


fig = plt.figure(figsize=(8.3, 8.92), dpi=100)

for i, name in enumerate(names):
    r, c = divmod(i, 3)
    y0 = 3.0 + ROW_STEP * r
    ax_t = px_axes(col_x[c], y0, PANEL_W, TOP_H)
    ax_b = px_axes(col_x[c], y0 + TOP_H, PANEL_W, BOT_H)

    # --- WISE panel ---
    lo, hi = top_ylim[i]
    ppu = TOP_H / (hi - lo)
    t_w = [e + wise_shift[i] for e in wise_epochs]
    for vals, flags, mk, face, edge, ulc in (
            (w2_flux[i], w2_flag[i], 'o', W2_FACE, W2_EDGE, W2_UL),
            (w1_flux[i], w1_flag[i], 's', W1_FACE, W1_EDGE, W1_UL)):
        dt = [t for t, v, f in zip(t_w, vals, flags) if f == 'd' and v is not None]
        dy = [v for v, f in zip(vals, flags) if f == 'd' and v is not None]
        ut = [t for t, v, f in zip(t_w, vals, flags) if f == 'u' and v is not None]
        uy = [v for v, f in zip(vals, flags) if f == 'u' and v is not None]
        draw_ul(ax_t, ut, uy, mk, ulc, ulc, 4.3, ppu, 6.5)
        draw_det(ax_t, dt, dy, mk, face, edge, 4.6)
    ax_t.set_ylim(lo, hi)
    style_axes(ax_t)
    ax_t.yaxis.set_major_locator(MultipleLocator(top_step[i]))
    ax_t.tick_params(labelbottom=False)
    add_right(ax_t, top_off[i])
    ax_t.text(0.05, 0.875, name, transform=ax_t.transAxes, fontsize=6.8, va='top', ha='left',
              bbox=dict(boxstyle='round,pad=0.3', fc='white', ec='0.35', lw=0.8), zorder=6)

    # --- optical / X-ray panel ---
    ppu_b = BOT_H / (BOT_LIM[1] - BOT_LIM[0])
    draw_ul(ax_b, v_t[i], v_y[i], 'o', V_COL, V_ARR, 4.2, ppu_b, 7.5, z=2)
    draw_ul(ax_b, g_t[i], g_y[i], 's', G_COL, G_ARR, 4.0, ppu_b, 7.5, z=2)
    if v_det[i]:
        draw_det(ax_b, [p[0] for p in v_det[i]], [p[1] for p in v_det[i]], 'o', V_COL, '#f6b487', 4.2)
    if g_det[i]:
        draw_det(ax_b, [p[0] for p in g_det[i]], [p[1] for p in g_det[i]], 's', G_COL, '#e6a2c0', 4.0)
    for inst in ('erosita', 'swift', 'chandra', 'xmm'):
        mk, ms, col, fill = XSTYLE[inst]
        pts = [p for p in xray[i] if p[0] == inst]
        ut = [p[1] for p in pts if p[3]]
        uy = [p[2] for p in pts if p[3]]
        dtt = [p[1] for p in pts if not p[3]]
        dyy = [p[2] for p in pts if not p[3]]
        draw_ul(ax_b, ut, uy, mk, col, col, ms, ppu_b, 6.5, z=4)
        draw_det(ax_b, dtt, dyy, mk, fill if inst != 'erosita' else col,
                 col if inst != 'swift' else '#9fce8f', ms, z=4)
    if tde_year[i] is not None:
        ax_b.axvline(tde_year[i], color='k', ls='--', lw=1.1, zorder=5)
    ax_b.set_ylim(*BOT_LIM)
    style_axes(ax_b)
    ax_b.yaxis.set_major_locator(MultipleLocator(1))
    add_right(ax_b, bot_off[i])

    if i == len(names) - 1:
        h1 = ax_t.errorbar([np.nan], [np.nan], yerr=[0.1], fmt='s', ms=4.6, mfc=W1_FACE, mec=W1_EDGE,
                           ecolor=W1_FACE, elinewidth=0.8, label='WISE W1')
        h2 = ax_t.errorbar([np.nan], [np.nan], yerr=[0.1], fmt='o', ms=4.6, mfc=W2_FACE, mec=W2_EDGE,
                           ecolor=W2_FACE, elinewidth=0.8, label='WISE W2')
        ax_t.legend(handles=[h1, h2], loc='lower right', fontsize=5.6, fancybox=False, edgecolor='0.55',
                    framealpha=1.0, handlelength=1.0, handletextpad=1.4, borderpad=0.5, labelspacing=0.55)
        hb = []
        for lab, mk, ms, fc, ec in (('ASASSN g', 's', 4.0, G_COL, '#e6a2c0'),
                                    ('ASASSN V', 'o', 4.2, V_COL, '#f6b487'),
                                    ('eROSITA', 'X', 5.0, '#1e6b1e', '#1e6b1e'),
                                    ('Swift XRT', 'D', 3.6, '#6cba5c', '#4c9a3c'),
                                    ('Chandra', 'p', 4.5, '#9fd49f', '#7fc07f'),
                                    ('XMM-Slew', 'o', 5.0, '#dedeb4', '#cfcf98')):
            hb.append(ax_b.errorbar([np.nan], [np.nan], yerr=[0.1], fmt=mk, ms=ms, mfc=fc, mec=ec,
                                    ecolor=fc, elinewidth=0.8, label=lab))
        ax_b.legend(handles=hb, loc='upper left', ncol=2, fontsize=5.3, fancybox=False, edgecolor='0.55',
                    framealpha=0.85, handlelength=1.0, handletextpad=0.5, borderpad=0.35,
                    labelspacing=0.35, columnspacing=0.6, borderaxespad=0.3)

fig.text(0.016, 0.5, 'log(Difference Flux) [mJy]', rotation=90, ha='center', va='center', fontsize=15)
fig.text(0.985, 0.505, r'log(Luminosity) [erg s$^{-1}$]', rotation=90, ha='center', va='center', fontsize=15)
fig.text(0.497, 0.016, 'Time [Year]', ha='center', va='center', fontsize=13.5)

fig.savefig('out.png', dpi=100)
